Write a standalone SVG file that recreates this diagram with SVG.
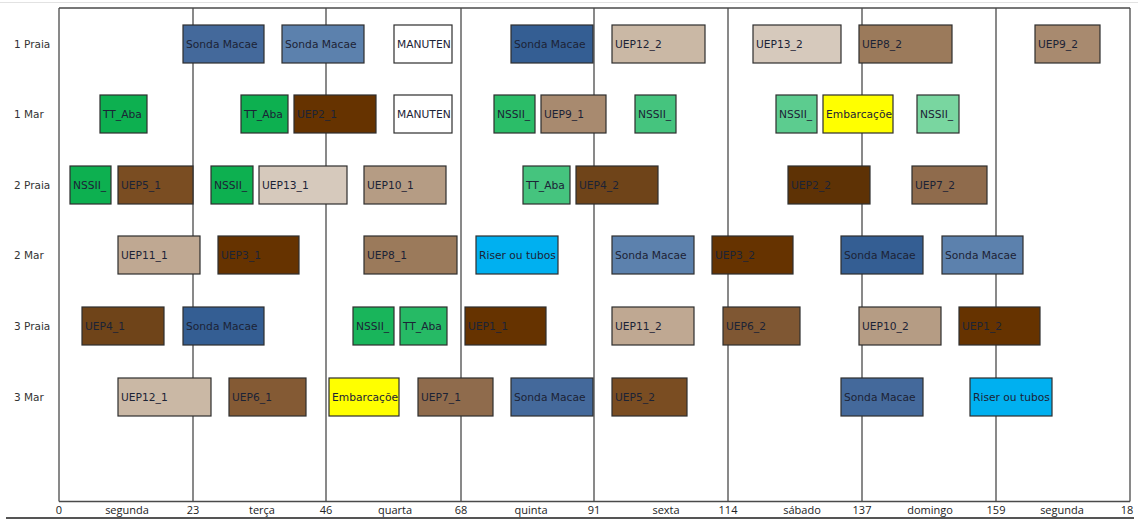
<svg xmlns="http://www.w3.org/2000/svg" width="1138" height="519" viewBox="0 0 1138 519">
<style>
  .bar rect { stroke: #2e2e2e; stroke-width: 1.2; }
  .bar text { font-family: "DejaVu Sans", "Liberation Sans", sans-serif; font-size: 10.7px; fill: #1c2336; }
  .row { font-family: "DejaVu Sans", "Liberation Sans", sans-serif; font-size: 10.5px; fill: #333; }
  .ax { font-family: "Open Sans", "Liberation Sans", sans-serif; font-size: 11px; fill: #222; text-anchor: middle; }
  .grid line { stroke: #4a4a4a; stroke-width: 1.3; }
  .sA { fill: #44699b; } .sB { fill: #5c81ad; } .sC { fill: #345e93; }
  .g0 { fill: #0db050; } .g1 { fill: #2bbd68; } .g2 { fill: #45c47e; } .g3 { fill: #5ccc8f; } .g4 { fill: #79d6a0; } .g5 { fill: #19b55b; } .g6 { fill: #26ba65; }
  .u1, .u2, .u3 { fill: #663300; } .u2b { fill: #5e3205; }
  .u4 { fill: #6f4419; } .u5 { fill: #7a4d22; } .u6a { fill: #845a34; } .u6b { fill: #7f5733; }
  .u7 { fill: #8f6b4c; } .u8 { fill: #9b7a5b; } .u9 { fill: #a88a6f; } .u10 { fill: #b59c84; }
  .u11 { fill: #bfa892; } .u12 { fill: #cab8a5; } .u13 { fill: #d6c9bc; }
  .yel { fill: #ffff00; } .cy { fill: #00b0f0; } .wh { fill: #ffffff; }
</style>
<defs>
  <clipPath id="c-man1"><rect x="394" y="25" width="58" height="38"/></clipPath>
  <clipPath id="c-man2"><rect x="394" y="95" width="58" height="38"/></clipPath>
  <clipPath id="c-emb1"><rect x="823" y="95" width="70" height="38"/></clipPath>
  <clipPath id="c-emb2"><rect x="329" y="378" width="70" height="38"/></clipPath>
</defs>
<rect x="0" y="0" width="1138" height="519" fill="#ffffff"/>
<line x1="0" y1="2.5" x2="1138" y2="2.5" stroke="#e2e2e2" stroke-width="1"/>

<!-- plot frame and day dividers -->
<g id="grid" class="grid">
  <line x1="59" y1="8" x2="1130" y2="8"/>
  <line x1="59" y1="501.5" x2="1130" y2="501.5"/>
  <line x1="59" y1="8" x2="59" y2="501.5"/>
  <line x1="1130" y1="8" x2="1130" y2="501.5"/>
  <line x1="193" y1="8" x2="193" y2="501.5"/>
  <line x1="326" y1="8" x2="326" y2="501.5"/>
  <line x1="461" y1="8" x2="461" y2="501.5"/>
  <line x1="594" y1="8" x2="594" y2="501.5"/>
  <line x1="728" y1="8" x2="728" y2="501.5"/>
  <line x1="862" y1="8" x2="862" y2="501.5"/>
  <line x1="996" y1="8" x2="996" y2="501.5"/>
</g>
<line x1="6" y1="518" x2="1134" y2="518" stroke="#555" stroke-width="2"/>

<!-- row labels -->
<g id="rows" class="row">
  <text x="14" y="48">1 Praia</text>
  <text x="14" y="118">1 Mar</text>
  <text x="14" y="189">2 Praia</text>
  <text x="14" y="259">2 Mar</text>
  <text x="14" y="330">3 Praia</text>
  <text x="14" y="401">3 Mar</text>
</g>

<!-- time axis -->
<g id="axis" class="ax">
  <text x="59" y="514">0</text>
  <text x="127" y="514">segunda</text>
  <text x="193" y="514">23</text>
  <text x="262" y="514">terça</text>
  <text x="326" y="514">46</text>
  <text x="395" y="514">quarta</text>
  <text x="461" y="514">68</text>
  <text x="531" y="514">quinta</text>
  <text x="594" y="514">91</text>
  <text x="666" y="514">sexta</text>
  <text x="728" y="514">114</text>
  <text x="802" y="514">sábado</text>
  <text x="862" y="514">137</text>
  <text x="930" y="514">domingo</text>
  <text x="996" y="514">159</text>
  <text x="1062" y="514">segunda</text>
  <text x="1127" y="514">18</text>
</g>

<!-- row 1 Praia -->
<g id="p1-sonda-a" class="bar"><rect class="sA" x="183" y="25" width="81" height="38"/><text x="186" y="48">Sonda Macae</text></g>
<g id="p1-sonda-b" class="bar"><rect class="sB" x="282" y="25" width="82" height="38"/><text x="285" y="48">Sonda Macae</text></g>
<g id="p1-manut" class="bar"><rect class="wh" x="394" y="25" width="58" height="38"/><text x="397" y="48" clip-path="url(#c-man1)">MANUTEN</text></g>
<g id="p1-sonda-c" class="bar"><rect class="sC" x="511" y="25" width="82" height="38"/><text x="514" y="48">Sonda Macae</text></g>
<g id="p1-uep12-2" class="bar"><rect class="u12" x="612" y="25" width="93" height="38"/><text x="615" y="48">UEP12_2</text></g>
<g id="p1-uep13-2" class="bar"><rect class="u13" x="753" y="25" width="88" height="38"/><text x="756" y="48">UEP13_2</text></g>
<g id="p1-uep8-2" class="bar"><rect class="u8" x="859" y="25" width="93" height="38"/><text x="862" y="48">UEP8_2</text></g>
<g id="p1-uep9-2" class="bar"><rect class="u9" x="1035" y="25" width="65" height="38"/><text x="1038" y="48">UEP9_2</text></g>

<!-- row 1 Mar -->
<g id="m1-tt-a" class="bar"><rect class="g0" x="100" y="95" width="47" height="38"/><text x="103" y="118">TT_Aba</text></g>
<g id="m1-tt-b" class="bar"><rect class="g0" x="241" y="95" width="47" height="38"/><text x="244" y="118">TT_Aba</text></g>
<g id="m1-uep2-1" class="bar"><rect class="u2" x="294" y="95" width="82" height="38"/><text x="297" y="118">UEP2_1</text></g>
<g id="m1-manut" class="bar"><rect class="wh" x="394" y="95" width="58" height="38"/><text x="397" y="118" clip-path="url(#c-man2)">MANUTEN</text></g>
<g id="m1-nssii-a" class="bar"><rect class="g1" x="494" y="95" width="41" height="38"/><text x="497" y="118">NSSII_</text></g>
<g id="m1-uep9-1" class="bar"><rect class="u9" x="541" y="95" width="65" height="38"/><text x="544" y="118">UEP9_1</text></g>
<g id="m1-nssii-b" class="bar"><rect class="g2" x="635" y="95" width="41" height="38"/><text x="638" y="118">NSSII_</text></g>
<g id="m1-nssii-c" class="bar"><rect class="g3" x="776" y="95" width="41" height="38"/><text x="779" y="118">NSSII_</text></g>
<g id="m1-embarc" class="bar"><rect class="yel" x="823" y="95" width="70" height="38"/><text x="826" y="118" clip-path="url(#c-emb1)">Embarcaçõe</text></g>
<g id="m1-nssii-d" class="bar"><rect class="g4" x="917" y="95" width="42" height="38"/><text x="920" y="118">NSSII_</text></g>

<!-- row 2 Praia -->
<g id="p2-nssii-a" class="bar"><rect class="g0" x="70" y="166" width="41" height="38"/><text x="73" y="189">NSSII_</text></g>
<g id="p2-uep5-1" class="bar"><rect class="u5" x="118" y="166" width="75" height="38"/><text x="121" y="189">UEP5_1</text></g>
<g id="p2-nssii-b" class="bar"><rect class="g0" x="211" y="166" width="42" height="38"/><text x="214" y="189">NSSII_</text></g>
<g id="p2-uep13-1" class="bar"><rect class="u13" x="259" y="166" width="88" height="38"/><text x="262" y="189">UEP13_1</text></g>
<g id="p2-uep10-1" class="bar"><rect class="u10" x="364" y="166" width="82" height="38"/><text x="367" y="189">UEP10_1</text></g>
<g id="p2-tt" class="bar"><rect class="g2" x="523" y="166" width="47" height="38"/><text x="526" y="189">TT_Aba</text></g>
<g id="p2-uep4-2" class="bar"><rect class="u4" x="576" y="166" width="82" height="38"/><text x="579" y="189">UEP4_2</text></g>
<g id="p2-uep2-2" class="bar"><rect class="u2b" x="788" y="166" width="82" height="38"/><text x="791" y="189">UEP2_2</text></g>
<g id="p2-uep7-2" class="bar"><rect class="u7" x="912" y="166" width="75" height="38"/><text x="915" y="189">UEP7_2</text></g>

<!-- row 2 Mar -->
<g id="m2-uep11-1" class="bar"><rect class="u11" x="118" y="236" width="82" height="38"/><text x="121" y="259">UEP11_1</text></g>
<g id="m2-uep3-1" class="bar"><rect class="u3" x="218" y="236" width="81" height="38"/><text x="221" y="259">UEP3_1</text></g>
<g id="m2-uep8-1" class="bar"><rect class="u8" x="364" y="236" width="93" height="38"/><text x="367" y="259">UEP8_1</text></g>
<g id="m2-riser" class="bar"><rect class="cy" x="476" y="236" width="82" height="38"/><text x="479" y="259">Riser ou tubos</text></g>
<g id="m2-sonda-a" class="bar"><rect class="sB" x="612" y="236" width="82" height="38"/><text x="615" y="259">Sonda Macae</text></g>
<g id="m2-uep3-2" class="bar"><rect class="u3" x="712" y="236" width="81" height="38"/><text x="715" y="259">UEP3_2</text></g>
<g id="m2-sonda-b" class="bar"><rect class="sC" x="841" y="236" width="82" height="38"/><text x="844" y="259">Sonda Macae</text></g>
<g id="m2-sonda-c" class="bar"><rect class="sB" x="942" y="236" width="81" height="38"/><text x="945" y="259">Sonda Macae</text></g>

<!-- row 3 Praia -->
<g id="p3-uep4-1" class="bar"><rect class="u4" x="82" y="307" width="82" height="38"/><text x="85" y="330">UEP4_1</text></g>
<g id="p3-sonda" class="bar"><rect class="sC" x="183" y="307" width="81" height="38"/><text x="186" y="330">Sonda Macae</text></g>
<g id="p3-nssii" class="bar"><rect class="g5" x="353" y="307" width="41" height="38"/><text x="356" y="330">NSSII_</text></g>
<g id="p3-tt" class="bar"><rect class="g6" x="400" y="307" width="47" height="38"/><text x="403" y="330">TT_Aba</text></g>
<g id="p3-uep1-1" class="bar"><rect class="u1" x="465" y="307" width="81" height="38"/><text x="468" y="330">UEP1_1</text></g>
<g id="p3-uep11-2" class="bar"><rect class="u11" x="612" y="307" width="82" height="38"/><text x="615" y="330">UEP11_2</text></g>
<g id="p3-uep6-2" class="bar"><rect class="u6b" x="723" y="307" width="77" height="38"/><text x="726" y="330">UEP6_2</text></g>
<g id="p3-uep10-2" class="bar"><rect class="u10" x="859" y="307" width="82" height="38"/><text x="862" y="330">UEP10_2</text></g>
<g id="p3-uep1-2" class="bar"><rect class="u1" x="959" y="307" width="81" height="38"/><text x="962" y="330">UEP1_2</text></g>

<!-- row 3 Mar -->
<g id="m3-uep12-1" class="bar"><rect class="u12" x="118" y="378" width="93" height="38"/><text x="121" y="401">UEP12_1</text></g>
<g id="m3-uep6-1" class="bar"><rect class="u6a" x="229" y="378" width="77" height="38"/><text x="232" y="401">UEP6_1</text></g>
<g id="m3-embarc" class="bar"><rect class="yel" x="329" y="378" width="70" height="38"/><text x="332" y="401" clip-path="url(#c-emb2)">Embarcaçõe</text></g>
<g id="m3-uep7-1" class="bar"><rect class="u7" x="418" y="378" width="75" height="38"/><text x="421" y="401">UEP7_1</text></g>
<g id="m3-sonda-a" class="bar"><rect class="sA" x="511" y="378" width="82" height="38"/><text x="514" y="401">Sonda Macae</text></g>
<g id="m3-uep5-2" class="bar"><rect class="u5" x="612" y="378" width="75" height="38"/><text x="615" y="401">UEP5_2</text></g>
<g id="m3-sonda-b" class="bar"><rect class="sA" x="841" y="378" width="82" height="38"/><text x="844" y="401">Sonda Macae</text></g>
<g id="m3-riser" class="bar"><rect class="cy" x="970" y="378" width="82" height="38"/><text x="973" y="401">Riser ou tubos</text></g>
</svg>
